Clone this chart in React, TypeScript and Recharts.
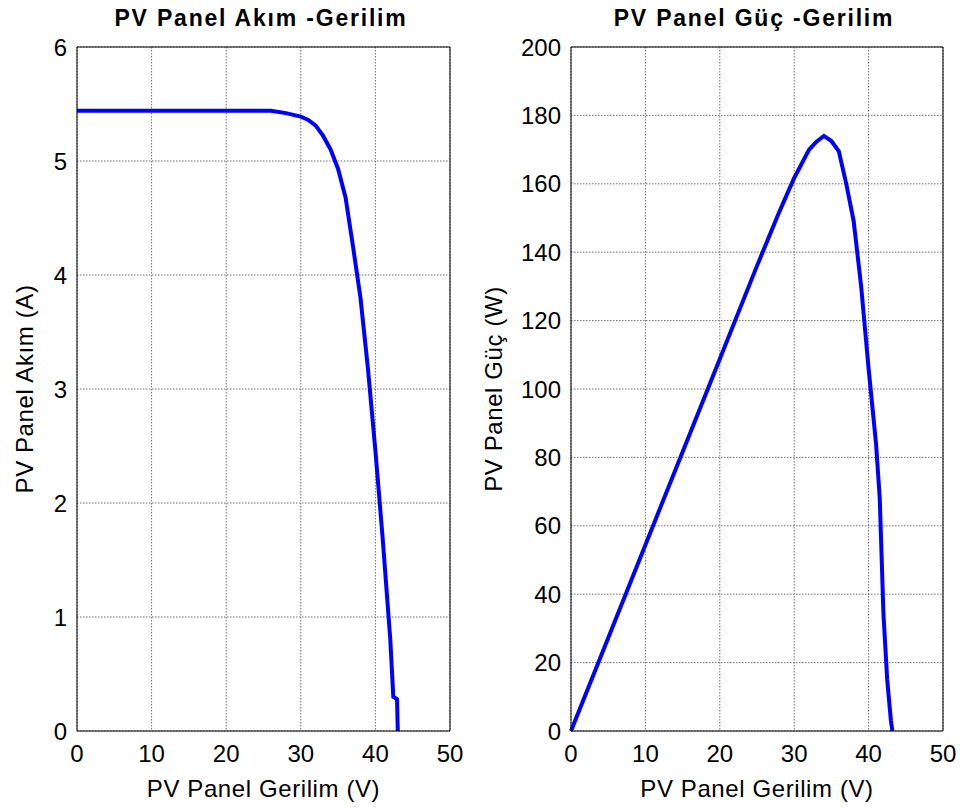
import React from 'react';
import { LineChart, Line, XAxis, YAxis, CartesianGrid, Label } from 'recharts';

// I-V curve
const voltageIV = [0, 5, 10, 15, 20, 25, 26, 28, 30, 31, 32, 33, 34, 35, 36, 37, 38, 39, 40, 41, 42, 42.4, 42.9, 43.0];
const currentIV = [5.44, 5.44, 5.44, 5.44, 5.44, 5.44, 5.44, 5.42, 5.39, 5.36, 5.31, 5.22, 5.1, 4.93, 4.68, 4.25, 3.8, 3.18, 2.46, 1.67, 0.8, 0.3, 0.28, 0];

// P-V curve
const voltagePV = [0, 5, 10, 15, 20, 25, 28, 30, 32, 33, 34, 35, 36, 37, 38, 39, 40, 41, 41.5, 42, 42.5, 43, 43.2];
const powerPV = [0, 27.2, 54.4, 81.6, 108.8, 136, 151.8, 161.7, 170, 172.3, 174, 172.5, 169.5, 160, 149, 130, 106, 84, 68, 34, 15, 3, 0];

const xTicks = [0, 10, 20, 30, 40, 50];
const currentTicks = [0, 1, 2, 3, 4, 5, 6];
const powerTicks = [0, 20, 40, 60, 80, 100, 120, 140, 160, 180, 200];

const ivData = voltageIV.map((v, i) => ({ v, i: currentIV[i] }));
const pvData = voltagePV.map((v, i) => ({ v, p: powerPV[i] }));

const FONT = '"Liberation Sans", Arial, sans-serif';
const tickStyle = { fontSize: 24, fill: '#000', fontFamily: FONT };
const labelStyle = { fontSize: 24, fill: '#000', fontFamily: FONT, letterSpacing: 0.6, textAnchor: 'middle' as const };

interface PanelProps {
  data: { v: number }[];
  dataKey: string;
  yMax: number;
  yTicks: number[];
  yLabel: string;
  yAxisWidth: number;
  rightMargin: number;
  yLabelOffset: number;
}

const Panel: React.FC<PanelProps> = ({ data, dataKey, yMax, yTicks, yLabel, yAxisWidth, rightMargin, yLabelOffset }) => (
  <LineChart
    width={480}
    height={807}
    data={data}
    margin={{ top: 47, right: rightMargin, left: 0, bottom: 0 }}
  >
    <CartesianGrid stroke="#707070" strokeDasharray="1.5 1.5" />
    <XAxis
      dataKey="v"
      type="number"
      domain={[0, 50]}
      ticks={xTicks}
      height={76}
      tickSize={0}
      tickLine={false}
      tickMargin={14}
      stroke="#000"
      tick={tickStyle}
      interval={0}
    >
      <Label value="PV Panel Gerilim (V)" position="insideBottom" offset={10} style={labelStyle} />
    </XAxis>
    <YAxis
      type="number"
      domain={[0, yMax]}
      ticks={yTicks}
      width={yAxisWidth}
      tickSize={0}
      tickLine={false}
      tickMargin={10}
      stroke="#000"
      tick={tickStyle}
      interval={0}
    >
      <Label value={yLabel} angle={-90} position="insideLeft" offset={yLabelOffset} style={labelStyle} />
    </YAxis>
    {/* inward tick marks and the box on all four sides */}
    <XAxis xAxisId="bt" type="number" domain={[0, 50]} ticks={xTicks} orientation="bottom" mirror tick={false} tickSize={4} axisLine={false} stroke="#000" />
    <XAxis xAxisId="tp" type="number" domain={[0, 50]} ticks={xTicks} orientation="top" mirror tick={false} tickSize={4} stroke="#000" />
    <YAxis yAxisId="lt" type="number" domain={[0, yMax]} ticks={yTicks} orientation="left" mirror tick={false} tickSize={4} axisLine={false} stroke="#000" />
    <YAxis yAxisId="rt" type="number" domain={[0, yMax]} ticks={yTicks} orientation="right" mirror tick={false} tickSize={4} stroke="#000" />
    <Line
      type="linear"
      dataKey={dataKey}
      stroke="#0000ff"
      strokeWidth={4}
      dot={false}
      isAnimationActive={false}
    />
  </LineChart>
);

const titleStyle: React.CSSProperties = {
  position: 'absolute',
  top: 7,
  width: 480,
  textAlign: 'center',
  fontFamily: FONT,
  fontWeight: 'bold',
  fontSize: 23,
  lineHeight: '23px',
  letterSpacing: 1.8,
  color: '#000',
};

export default function App() {
  return (
    <div style={{ position: 'absolute', left: 0, top: 0, width: 960, height: 807, background: '#fff', overflow: 'hidden' }}>
      <div style={{ ...titleStyle, left: 21 }}>PV Panel Akım -Gerilim</div>
      <div style={{ ...titleStyle, left: 514 }}>PV Panel Güç -Gerilim</div>
      <div style={{ position: 'absolute', left: 0, top: 0 }}>
        <Panel data={ivData} dataKey="i" yMax={6} yTicks={currentTicks} yLabel="PV Panel Akım (A)" yAxisWidth={77} rightMargin={30} yLabelOffset={24} />
      </div>
      <div style={{ position: 'absolute', left: 480, top: 0 }}>
        <Panel data={pvData} dataKey="p" yMax={200} yTicks={powerTicks} yLabel="PV Panel Güç (W)" yAxisWidth={91} rightMargin={17} yLabelOffset={13} />
      </div>
    </div>
  );
}
